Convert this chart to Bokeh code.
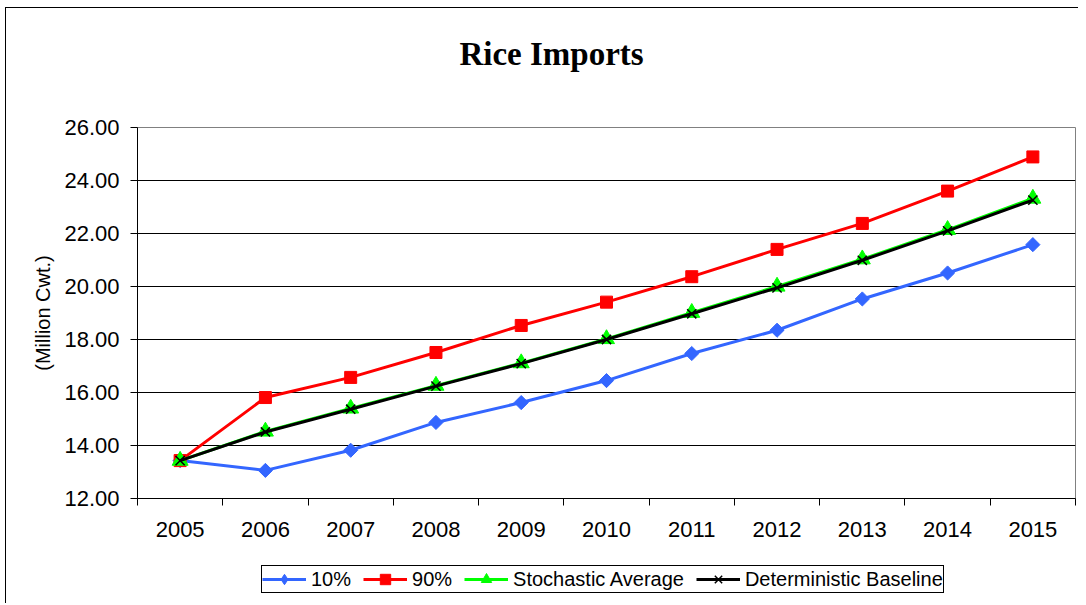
import math
from bokeh.plotting import figure
from bokeh.layouts import column
from bokeh.models import Range1d, FixedTicker, NumeralTickFormatter, BasicTickFormatter, Legend, LegendItem, Label
from bokeh.embed import file_html
from bokeh.resources import INLINE

years = [2005, 2006, 2007, 2008, 2009, 2010, 2011, 2012, 2013, 2014, 2015]
p10 = [13.43, 13.06, 13.82, 14.87, 15.62, 16.45, 17.47, 18.35, 19.53, 20.51, 21.58]
p90 = [13.43, 15.81, 16.57, 17.51, 18.53, 19.41, 20.37, 21.40, 22.38, 23.60, 24.89]
stoch = [13.43, 14.53, 15.40, 16.26, 17.11, 18.02, 19.01, 20.00, 21.03, 22.14, 23.32]
determ = [13.43, 14.51, 15.37, 16.24, 17.09, 18.00, 18.97, 19.95, 20.99, 22.10, 23.26]
y_ticks = [12, 14, 16, 18, 20, 22, 24, 26]
series_names = ["10%", "90%", "Stochastic Average", "Deterministic Baseline"]
title_text = "Rice Imports"

FONT = "Liberation Sans"
W = 1072
FW = 938
blue = "#3366FF"
styles = [
    dict(line_color=blue, marker="square", angle=math.pi / 4, size=10, fill_color=blue, m_line=blue, lw=1, leg_marker="diamond", leg_angle=0),
    dict(line_color="#FF0000", marker="square", angle=0, size=12, fill_color="#FF0000", m_line="#FF0000", lw=1, leg_marker="square", leg_angle=0),
    dict(line_color="#00FF00", marker="triangle", angle=0, size=16, fill_color="#00FF00", m_line="#00FF00", lw=1, leg_marker="triangle", leg_angle=0),
    dict(line_color="black", marker="x", angle=0, size=13, fill_color=None, m_line="black", lw=1.5, leg_marker="x", leg_angle=0),
]
all_series = [p10, p90, stoch, determ]

# ---- title strip (its frame is aligned with the main frame by the column)
pt = figure(width=W, height=99, output_backend="svg", toolbar_location=None,
            x_range=Range1d(0, FW), y_range=Range1d(0, 99),
            x_axis_type=None, y_axis_type=None, min_border=0)
pt.outline_line_color = None
pt.grid.visible = False
pt.add_layout(Label(x=414, y=54, text=title_text, text_font="Liberation Serif",
                    text_font_style="bold", text_font_size="33px", text_color="black",
                    text_align="center", text_baseline="alphabetic"))

# ---- main chart
p = figure(frame_width=FW, frame_height=371, output_backend="svg", toolbar_location=None,
           x_range=Range1d(years[0] - 0.5, years[-1] + 0.5),
           y_range=Range1d(y_ticks[0], y_ticks[-1]),
           min_border_left=131, min_border_right=3, min_border_top=20, min_border_bottom=60)
p.outline_line_color = "#808080"
p.outline_line_width = 1
p.background_fill_color = "white"
p.border_fill_color = "white"

p.xgrid.grid_line_color = None
p.ygrid.grid_line_color = "#000000"
p.ygrid.grid_line_width = 1

p.xaxis.ticker = FixedTicker(ticks=years, minor_ticks=[y - 0.5 for y in years] + [years[-1] + 0.5])
p.xaxis.formatter = BasicTickFormatter(use_scientific=False)
p.xaxis.major_tick_out = 0
p.xaxis.major_tick_in = 0
p.xaxis.minor_tick_out = 7
p.xaxis.minor_tick_in = 0
p.xaxis.minor_tick_line_color = "black"
p.xaxis.axis_line_color = "black"
p.xaxis.major_label_standoff = 16
p.xaxis.major_label_text_font = FONT
p.xaxis.major_label_text_font_size = "22px"
p.xaxis.major_label_text_color = "black"

p.yaxis.ticker = FixedTicker(ticks=y_ticks, minor_ticks=[])
p.yaxis.formatter = NumeralTickFormatter(format="0.00")
p.yaxis.major_tick_out = 7
p.yaxis.major_tick_in = 0
p.yaxis.major_tick_line_color = "black"
p.yaxis.axis_line_color = "black"
p.yaxis.major_label_standoff = 11
p.yaxis.major_label_text_font = FONT
p.yaxis.major_label_text_font_size = "22px"
p.yaxis.major_label_text_color = "black"
p.yaxis.axis_label = "(Million Cwt.)"
p.yaxis.axis_label_text_font = FONT
p.yaxis.axis_label_text_font_style = "normal"
p.yaxis.axis_label_text_font_size = "20px"
p.yaxis.axis_label_text_color = "black"
p.yaxis.axis_label_standoff = 7

for vals, st in zip(all_series, styles):
    p.line(years, vals, line_color=st["line_color"], line_width=3)
    p.scatter(years, vals, marker=st["marker"], angle=st["angle"], size=st["size"],
              fill_color=st["fill_color"], line_color=st["m_line"], line_width=st["lw"])

# ---- legend strip: same series drawn out of its view, used only for the legend swatches
pl = figure(width=W, height=45, output_backend="svg", toolbar_location=None,
            x_range=Range1d(0, 1), y_range=Range1d(0, 1),
            x_axis_type=None, y_axis_type=None, min_border=0)
pl.outline_line_color = None
pl.grid.visible = False
items = []
for name, vals, st in zip(series_names, all_series, styles):
    lr = pl.line(years, vals, line_color=st["line_color"], line_width=3)
    mr = pl.scatter(years, vals, marker=st["leg_marker"], angle=st["leg_angle"], size=st["size"],
                    fill_color=st["fill_color"], line_color=st["m_line"], line_width=st["lw"])
    items.append(LegendItem(label=name, renderers=[lr, mr]))
legend = Legend(items=items, orientation="horizontal", location=(124, 10))
legend.label_text_font = FONT
legend.label_text_font_size = "20px"
legend.label_text_color = "black"
legend.label_standoff = 5
legend.label_height = 26
legend.glyph_width = 44
legend.glyph_height = 26
legend.spacing = 12
legend.padding = 0
legend.margin = 0
legend.border_line_color = "black"
legend.border_line_alpha = 1
legend.border_line_width = 1
legend.background_fill_alpha = 1
pl.add_layout(legend, "center")

layout = column(pt, p, pl, spacing=0)
layout.styles = {"border-left": "1px solid black", "border-top": "1px solid black",
                 "margin-left": "5px", "margin-top": "7px"}

open("out.html", "w").write(file_html(layout, INLINE))
